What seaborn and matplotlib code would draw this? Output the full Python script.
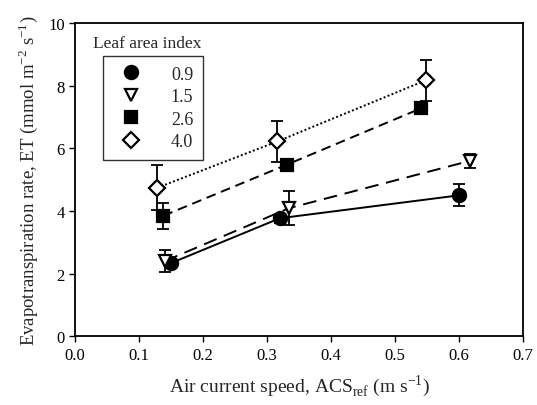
import pandas as pd
import matplotlib
matplotlib.use('Agg')
import matplotlib.pyplot as plt
import seaborn as sns
from matplotlib.lines import Line2D

# Values
lai_labels = ['0.9', '1.5', '2.6', '4.0']

speed_09 = [0.150, 0.320, 0.600]
et_09 = [2.34, 3.77, 4.50]
err_09 = [0.12, 0.15, 0.35]

speed_15 = [0.140, 0.334, 0.617]
et_15 = [2.40, 4.09, 5.60]
err_15 = [0.35, 0.55, 0.22]

speed_26 = [0.138, 0.331, 0.541]
et_26 = [3.85, 5.48, 7.28]
err_26 = [0.42, 0.10, 0.12]

speed_40 = [0.128, 0.316, 0.548]
et_40 = [4.74, 6.22, 8.17]
err_40 = [0.72, 0.65, 0.65]

x_ticks = [0.0, 0.1, 0.2, 0.3, 0.4, 0.5, 0.6, 0.7]
y_ticks = [0, 2, 4, 6, 8, 10]

sns.set_style('ticks')
plt.rcParams['font.family'] = ['Liberation Serif', 'DejaVu Serif']
plt.rcParams['mathtext.fontset'] = 'custom'
plt.rcParams['mathtext.rm'] = 'Liberation Serif'

fig = plt.figure(figsize=(5.37, 4.06), dpi=100)
ax = fig.add_axes([0.140, 0.169, 0.834, 0.772])

series = [
    (speed_09, et_09, err_09, 'o', 'black', '-', 9.5),
    (speed_15, et_15, err_15, 'v', 'white', (0, (7, 4)), 9),
    (speed_26, et_26, err_26, 's', 'black', (0, (5, 3)), 8),
    (speed_40, et_40, err_40, 'D', 'white', (0, (1, 1.2)), 8),
]

handles = []
for (xs, ys, es, mk, fc, ls, ms), lab in zip(series, lai_labels):
    df = pd.DataFrame({'speed': xs, 'et': ys})
    ax.errorbar(xs, ys, yerr=es, fmt='none', ecolor='black', elinewidth=1.3,
                capsize=4.5, capthick=1.3, zorder=2)
    sns.lineplot(data=df, x='speed', y='et', ax=ax, color='black', linestyle=ls,
                 linewidth=1.4, marker=mk, markersize=ms, markerfacecolor=fc,
                 markeredgecolor='black', markeredgewidth=1.6, errorbar=None,
                 zorder=3)
    handles.append(Line2D([], [], linestyle='none', marker=mk, markersize=ms,
                          markerfacecolor=fc, markeredgecolor='black',
                          markeredgewidth=1.6, label=lab))

ax.set_xlim(0, 0.7)
ax.set_ylim(0, 10)
ax.set_xticks(x_ticks)
ax.set_xticklabels([f'{v:.1f}' for v in x_ticks])
ax.set_yticks(y_ticks)
ax.tick_params(direction='out', length=4, width=1, labelsize=12, colors='black')
for s in ax.spines.values():
    s.set_linewidth(1.3)
    s.set_color('black')

ax.set_xlabel(r'Air current speed, ACS$_{\mathregular{ref}}$ (m s$^{\mathregular{-1}}$)',
              fontsize=14, labelpad=7)
ax.set_ylabel(r'Evapotranspiration rate, ET (mmol m$^{\mathregular{-2}}$ s$^{\mathregular{-1}}$)',
              fontsize=13.5, labelpad=6)

leg = ax.legend(handles=handles, loc='upper left', bbox_to_anchor=(0.0625, 0.895),
                borderaxespad=0, frameon=True, fancybox=False, fontsize=13,
                handletextpad=1.2, labelspacing=0.3, borderpad=0.55)
leg.get_frame().set_edgecolor('black')
leg.get_frame().set_linewidth(1.0)
ax.text(0.04, 0.935, 'Leaf area index', transform=ax.transAxes, fontsize=12.5,
        ha='left', va='center')

fig.savefig('out.png', dpi=100)
